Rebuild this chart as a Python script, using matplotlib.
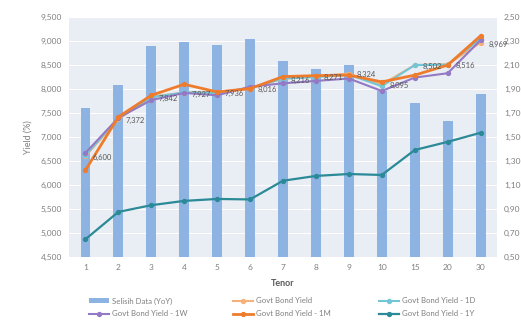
import numpy as np
import matplotlib.pyplot as plt
from matplotlib.ticker import FuncFormatter

plt.rcParams['font.family'] = ['Lato', 'DejaVu Sans']

# Tenor (tahun)
tenor = ['1', '2', '3', '4', '5', '6', '7', '8', '9', '10', '15', '20', '30']

# Selisih YoY (sumbu kanan)
selisih = [1.74, 1.93, 2.26, 2.29, 2.27, 2.32, 2.13, 2.07, 2.10, 1.88, 1.78, 1.63, 1.86]

# Imbal hasil SUN (%)
gby = [6.600, 7.372, 7.842, 7.927, 7.936, 8.016, 8.216, 8.271, 8.324, 8.095, 8.502, 8.516, 8.969]
gby_1d = [6.62, 7.40, 7.83, 7.93, 7.92, 8.02, 8.22, 8.25, 8.30, 8.06, 8.50, 8.51, 9.05]
gby_1w = [6.67, 7.40, 7.77, 7.92, 7.87, 8.05, 8.12, 8.17, 8.22, 7.96, 8.24, 8.33, 9.02]
gby_1m = [6.31, 7.42, 7.87, 8.10, 7.94, 8.01, 8.26, 8.28, 8.29, 8.15, 8.29, 8.50, 9.11]
gby_1y = [4.87, 5.44, 5.58, 5.67, 5.71, 5.70, 6.09, 6.19, 6.23, 6.21, 6.73, 6.90, 7.09]

x = np.arange(len(tenor))
txt = '#7f7f7f'

fig = plt.figure(figsize=(5.21, 3.29), dpi=100)
ax = fig.add_axes([0.1324, 0.2188, 0.8216, 0.7292])
ax2 = ax.twinx()

# batang di sumbu kanan, garis di sumbu kiri
ax.set_facecolor('#e9edf4')
ax.set_zorder(1)
ax2.set_zorder(2)
ax2.patch.set_visible(False)

bars = ax.bar(x, selisih, width=0.3, color='#8db3e2', label='Selisih Data (YoY)', zorder=2)
ax.set_ylim(0.5, 2.5)
ax.set_yticks(np.arange(0.5, 2.51, 0.2))
ax.yaxis.tick_right()
ax.yaxis.set_major_formatter(FuncFormatter(lambda v, p: f'{v:.2f}'.replace('.', ',')))
ax.grid(axis='y', color='white', linewidth=0.8, zorder=0)
ax.set_axisbelow(True)

ax2.yaxis.tick_left()
ax2.yaxis.set_label_position('left')
styles = [
    (gby, '#f6b07a', 'Govt Bond Yield', 1.5),
    (gby_1d, '#72c6d6', 'Govt Bond Yield - 1D', 1.5),
    (gby_1w, '#9479c4', 'Govt Bond Yield - 1W', 1.5),
    (gby_1m, '#ee7c2c', 'Govt Bond Yield - 1M', 2.0),
    (gby_1y, '#2b8a97', 'Govt Bond Yield - 1Y', 1.6),
]
lines = []
for vals, col, lab, lw in styles:
    l, = ax2.plot(x, vals, color=col, linewidth=lw, marker='o', markersize=2.8, label=lab)
    lines.append(l)
ax2.set_ylim(4.5, 9.5)
ax2.set_yticks(np.arange(4.5, 9.51, 0.5))
ax2.yaxis.set_major_formatter(FuncFormatter(lambda v, p: f'{v:,.3f}'.replace('.', ',')))
ax2.set_ylabel('Yield (%)', color=txt, fontsize=6.5, labelpad=6)

for xi, v in zip(x, gby):
    ax2.annotate(f'{v:.3f}'.replace('.', ','), (xi, v), xytext=(5.5, -1), textcoords='offset points',
                 ha='left', va='center', fontsize=5.5, color='#595959')

ax.set_xlim(-0.5, len(tenor) - 0.5)
ax.set_xticks(x)
ax.set_xticklabels(tenor)
ax.set_xlabel('Tenor', color='#595959', fontsize=6.5, fontweight='bold', labelpad=6)

for a in (ax, ax2):
    for s in a.spines.values():
        s.set_visible(False)
    a.tick_params(length=0, labelsize=6, colors=txt, pad=5)

# legenda: 3 kolom, 2 baris, tiap kolom legenda sendiri
cols = [(bars, lines[2]), (lines[0], lines[3]), (lines[1], lines[4])]
col_x = [0.170, 0.447, 0.727]
for hs, cx in zip(cols, col_x):
    fig.legend(handles=list(hs), labels=[o.get_label() for o in hs], loc='upper left',
               bbox_to_anchor=(cx, 0.096), frameon=False, fontsize=5.6,
               labelcolor=txt, handlelength=2.6, handletextpad=0.4,
               borderaxespad=0, borderpad=0, handleheight=0.5, labelspacing=0.75)

fig.savefig('out.png', dpi=100)
